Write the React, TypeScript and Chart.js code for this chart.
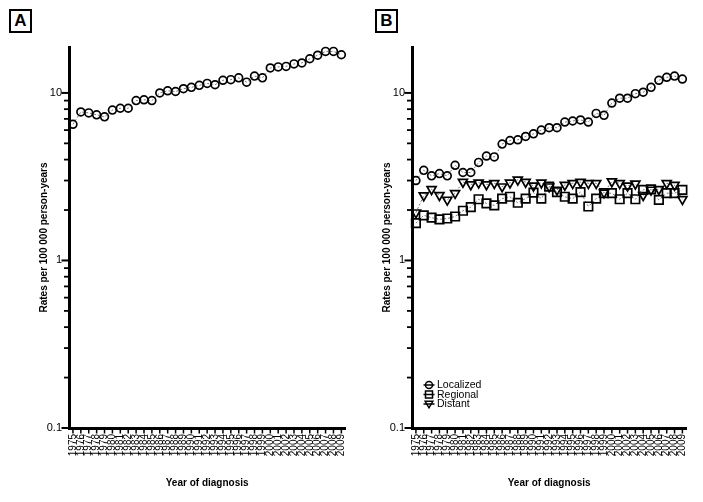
import React, { useEffect, useRef } from 'react';
import { Chart, registerables } from 'chart.js';

Chart.register(...registerables);

const FONT = "'Liberation Sans', Arial, Helvetica, sans-serif";

const years = [
  1975, 1976, 1977, 1978, 1979, 1980, 1981, 1982, 1983, 1984,
  1985, 1986, 1987, 1988, 1989, 1990, 1991, 1992, 1993, 1994,
  1995, 1996, 1997, 1998, 1999, 2000, 2001, 2002, 2003, 2004,
  2005, 2006, 2007, 2008, 2009,
];

// Panel A: all stages
const allStages = [
  6.5, 7.7, 7.6, 7.4, 7.2, 7.9, 8.1, 8.1, 9.0, 9.1,
  9.0, 10.0, 10.3, 10.2, 10.6, 10.8, 11.1, 11.4, 11.2, 11.9,
  12.0, 12.3, 11.6, 12.6, 12.3, 14.1, 14.3, 14.4, 14.9, 15.1,
  16.0, 16.8, 17.7, 17.7, 16.9,
];

// Panel B: by stage
const seriesNames = ['Localized', 'Regional', 'Distant'];
const localized = [
  3.0, 3.45, 3.2, 3.3, 3.2, 3.7, 3.35, 3.35, 3.85, 4.2,
  4.15, 4.95, 5.2, 5.25, 5.5, 5.7, 6.0, 6.2, 6.2, 6.7,
  6.8, 6.9, 6.7, 7.55, 7.35, 8.7, 9.3, 9.3, 9.9, 10.1,
  10.8, 11.9, 12.4, 12.6, 12.1,
];
const regional = [
  1.67, 1.86, 1.8, 1.76, 1.78, 1.83, 1.98, 2.08, 2.32, 2.19,
  2.13, 2.34, 2.4, 2.21, 2.34, 2.54, 2.34, 2.76, 2.56, 2.4,
  2.34, 2.56, 2.1, 2.34, 2.52, 2.52, 2.32, 2.52, 2.32, 2.64,
  2.66, 2.3, 2.52, 2.52, 2.64,
];
const distant = [
  1.93, 2.44, 2.66, 2.45, 2.3, 2.52, 2.94, 2.84, 2.91, 2.84,
  2.89, 2.76, 2.91, 3.03, 2.94, 2.79, 2.91, 2.76, 2.64, 2.82,
  2.89, 2.94, 2.89, 2.89, 2.54, 2.96, 2.89, 2.79, 2.87, 2.45,
  2.64, 2.66, 2.89, 2.82, 2.32,
];

const yTickLabels = ['0.1', '1', '10'];
const yTitle = 'Rates per 100 000 person-years';
const xTitle = 'Year of diagnosis';

const markerStyles = ['circle', 'rect', 'triangle'];

function isPow10(v: number) {
  const l = Math.log10(v);
  return Math.abs(l - Math.round(l)) < 1e-6;
}

const axisTicksPlugin = {
  id: 'axisTicks',
  afterDraw(chart: any) {
    const { ctx, chartArea } = chart;
    const xs = chart.scales.x;
    const ys = chart.scales.y;
    ctx.save();
    ctx.strokeStyle = '#000';
    ctx.lineCap = 'butt';
    ys.ticks.forEach((t: any) => {
      const v = t.value;
      const e = Math.floor(Math.log10(v) + 1e-9);
      const m = v / Math.pow(10, e);
      if (Math.abs(m - Math.round(m)) > 1e-6) return;
      const major = Math.round(m) === 1 || Math.round(m) === 10;
      const py = ys.getPixelForValue(v);
      ctx.lineWidth = major ? 2 : 1.8;
      const len = major ? 6 : 3.5;
      ctx.beginPath();
      ctx.moveTo(chartArea.left - 1.5 - len, py);
      ctx.lineTo(chartArea.left, py);
      ctx.stroke();
    });
    xs.ticks.forEach((t: any) => {
      const px = xs.getPixelForValue(t.value);
      ctx.lineWidth = 1.5;
      ctx.beginPath();
      ctx.moveTo(px, chartArea.bottom);
      ctx.lineTo(px, chartArea.bottom + 1.5 + 4);
      ctx.stroke();
    });
    ctx.restore();
  },
};

function drawMarker(ctx: CanvasRenderingContext2D, style: string, x: number, y: number, r: number) {
  ctx.beginPath();
  if (style === 'circle') {
    ctx.arc(x, y, r, 0, Math.PI * 2);
  } else if (style === 'rect') {
    ctx.rect(x - r, y - r, 2 * r, 2 * r);
  } else {
    const h = r * 1.1;
    ctx.moveTo(x - r * 1.1, y - h * 0.7);
    ctx.lineTo(x + r * 1.1, y - h * 0.7);
    ctx.lineTo(x, y + h);
    ctx.closePath();
  }
  ctx.fillStyle = '#fff';
  ctx.fill();
  ctx.stroke();
}

const legendPlugin = {
  id: 'panelLegend',
  afterDraw(chart: any) {
    const { ctx, chartArea } = chart;
    const x = chartArea.left + 17;
    ctx.save();
    ctx.strokeStyle = '#000';
    ctx.font = `10.5px ${FONT}`;
    ctx.textBaseline = 'middle';
    ctx.textAlign = 'left';
    seriesNames.forEach((name, i) => {
      const y = chartArea.bottom - 43 + i * 9.5;
      ctx.lineWidth = 1.5;
      drawMarker(ctx, markerStyles[i], x, y, 3.5);
      ctx.beginPath();
      ctx.moveTo(x - 5.5, y);
      ctx.lineTo(x + 5.5, y);
      ctx.stroke();
      ctx.fillStyle = '#000';
      ctx.fillText(name, x + 8, y + 0.5);
    });
    ctx.restore();
  },
};

function makeDataset(values: number[], style: string) {
  const radius = style === 'circle' ? 3.9 : style === 'rect' ? 6 : 5.2;
  return {
    data: years.map((yr, i) => ({ x: yr, y: values[i] })),
    borderColor: '#555',
    borderWidth: 0.8,
    borderDash: [2, 2],
    pointStyle: style,
    pointRotation: style === 'triangle' ? 180 : 0,
    pointRadius: radius,
    pointBorderWidth: 1.7,
    pointBorderColor: '#000',
    pointBackgroundColor: 'rgba(255,255,255,0)',
    fill: false,
    tension: 0,
    clip: false,
  };
}

function buildOptions(padLeft: number, padRight: number) {
  return {
    responsive: false,
    animation: false,
    layout: { padding: { left: padLeft, right: padRight, top: 47, bottom: 9 } },
    plugins: { legend: { display: false }, tooltip: { enabled: false } },
    scales: {
      x: {
        type: 'linear',
        min: 1974.5,
        max: 2009.5,
        grid: { display: false, drawTicks: false },
        border: { display: true, color: '#000', width: 3 },
        afterBuildTicks: (s: any) => {
          s.ticks = years.map((v) => ({ value: v }));
        },
        ticks: {
          autoSkip: false,
          maxRotation: 90,
          minRotation: 90,
          padding: 6,
          color: '#000',
          font: { size: 10, family: FONT },
          callback: (v: number) => String(v),
        },
        title: {
          display: true,
          text: xTitle,
          color: '#000',
          font: { size: 10, weight: 'bold', family: FONT },
          padding: { top: 4, bottom: 4 },
        },
        afterFit: (s: any) => {
          s.height = 65;
          s.paddingLeft = 0;
          s.paddingRight = 0;
        },
      },
      y: {
        type: 'logarithmic',
        min: 0.1,
        max: 18.8,
        grid: { display: false, drawTicks: false },
        border: { display: true, color: '#000', width: 3 },
        ticks: {
          autoSkip: false,
          padding: 7,
          color: '#000',
          font: { size: 11, family: FONT },
          callback: (v: number) => {
            if (!isPow10(v)) return '';
            const lbl = String(v);
            return yTickLabels.includes(lbl) ? lbl : '';
          },
        },
        title: {
          display: true,
          text: yTitle,
          color: '#000',
          font: { size: 10, weight: 'bold', family: FONT },
          padding: { top: 4, bottom: 4 },
        },
        afterFit: (s: any) => {
          s.width = 35;
        },
      },
    },
  };
}

function Panel({ left, datasets, withLegend }: { left: number; datasets: any[]; withLegend: boolean }) {
  const ref = useRef<HTMLCanvasElement | null>(null);
  useEffect(() => {
    if (!ref.current) return;
    const chart = new Chart(ref.current, {
      type: 'line',
      data: { datasets },
      options: buildOptions(34, 5.5) as any,
      plugins: withLegend ? [axisTicksPlugin, legendPlugin] : [axisTicksPlugin],
    } as any);
    return () => chart.destroy();
  }, []);
  return (
    <canvas
      ref={ref}
      width={351}
      height={502}
      style={{ position: 'absolute', left, top: 0, width: 351, height: 502 }}
    />
  );
}

const boxStyle = (left: number): React.CSSProperties => ({
  position: 'absolute',
  left,
  top: 9,
  width: 19,
  height: 20,
  border: '2px solid #000',
  fontFamily: FONT,
  fontWeight: 'bold',
  fontSize: 17,
  lineHeight: '20px',
  textAlign: 'center',
  color: '#000',
  background: '#fff',
});

export default function App() {
  const dsA = [makeDataset(allStages, 'circle')];
  const dsB = [
    makeDataset(localized, markerStyles[0]),
    makeDataset(regional, markerStyles[1]),
    makeDataset(distant, markerStyles[2]),
  ];
  return (
    <div style={{ position: 'absolute', left: 0, top: 0, width: 703, height: 502, background: '#fff', overflow: 'hidden' }}>
      <Panel left={0} datasets={dsA} withLegend={false} />
      <Panel left={343} datasets={dsB} withLegend={true} />
      <div style={boxStyle(9)}>A</div>
      <div style={boxStyle(375)}>B</div>
    </div>
  );
}
